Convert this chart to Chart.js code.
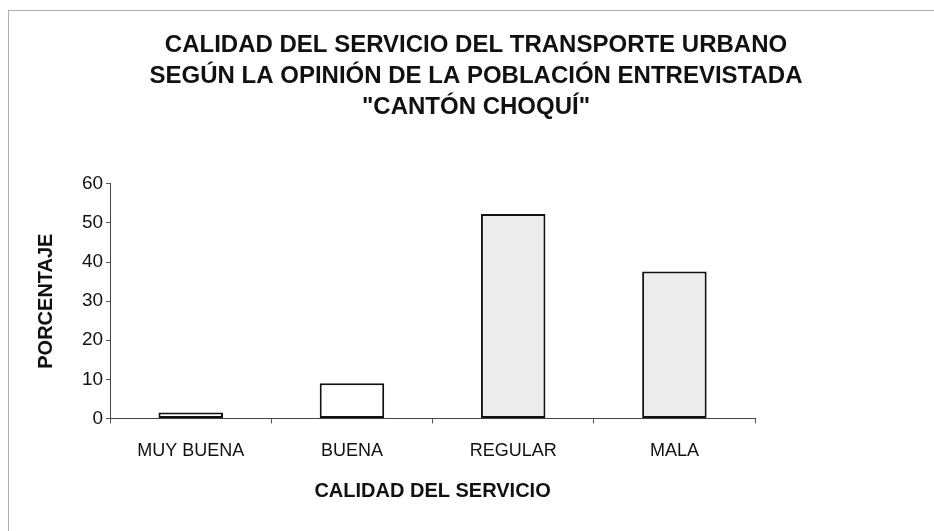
<!DOCTYPE html>
<html>
<head>
<meta charset="utf-8">
<script src="https://cdn.jsdelivr.net/npm/chart.js@4.4.1/dist/chart.umd.min.js"></script>
<style>
  html, body { margin: 0; padding: 0; background: #fff; overflow: hidden; width: 934px; height: 531px; }
  #frame { position: absolute; left: 8px; top: 10px; width: 1000px; height: 600px; border: 1px solid #a9b0a9; }
  #c { position: absolute; left: 0; top: 0; }
</style>
</head>
<body>
<div id="frame"></div>
<canvas id="c" width="934" height="531"></canvas>
<script>
const categories = ["MUY BUENA", "BUENA", "REGULAR", "MALA"];
const porcentaje = [1.5, 9, 52.3, 37.6];
const titleLines = [
  "CALIDAD DEL SERVICIO DEL TRANSPORTE URBANO",
  "SEGÚN LA OPINIÓN DE LA POBLACIÓN ENTREVISTADA",
  "\"CANTÓN CHOQUÍ\""
];
const xTitle = "CALIDAD DEL SERVICIO";
const yTitle = "PORCENTAJE";

const FONT = "'Liberation Sans', Arial, sans-serif";

new Chart(document.getElementById('c'), {
  type: 'bar',
  data: {
    labels: categories,
    datasets: [{
      data: porcentaje,
      backgroundColor: ['#ffffff', '#ffffff', '#ececec', '#ececec'],
      borderColor: '#111111',
      borderWidth: 2,
      borderSkipped: false,
      categoryPercentage: 1.0,
      barPercentage: 0.4,
      yAxisID: 'y'
    }]
  },
  options: {
    responsive: false,
    animation: false,
    devicePixelRatio: 1,
    layout: { padding: { left: 20, right: 2, top: 10, bottom: 22 } },
    plugins: {
      legend: { display: false },
      tooltip: { enabled: false },
      title: {
        display: true,
        text: titleLines,
        color: '#111111',
        font: { family: FONT, size: 24, weight: 'bold', lineHeight: 1.29 },
        padding: { top: 20, bottom: 61 }
      }
    },
    scales: {
      x: {
        grid: { display: true, drawOnChartArea: false, drawTicks: true, tickLength: 5, color: '#555555', offset: true },
        border: { display: true, color: '#444444', width: 1 },
        ticks: { color: '#111111', font: { family: FONT, size: 18 }, padding: 17, maxRotation: 0 },
        title: { display: true, text: xTitle, color: '#111111', font: { family: FONT, size: 20, weight: 'bold' }, padding: { top: 0, bottom: 6 } }
      },
      y: {
        min: 0,
        max: 60,
        grid: { display: true, drawOnChartArea: false, drawTicks: true, tickLength: 4, color: '#555555' },
        border: { display: true, color: '#444444', width: 1 },
        ticks: { stepSize: 10, color: '#111111', font: { family: FONT, size: 19 }, padding: 3 },
        title: { display: true, text: yTitle, color: '#111111', font: { family: FONT, size: 20, weight: 'bold' }, padding: { top: 14, bottom: 21 } }
      },
      spacer: {
        type: 'linear',
        position: 'right',
        display: true,
        grid: { display: false, drawTicks: false },
        border: { display: false },
        ticks: { display: false },
        afterFit: function (scale) { scale.width = 177; }
      }
    }
  }
});
</script>
</body>
</html>
